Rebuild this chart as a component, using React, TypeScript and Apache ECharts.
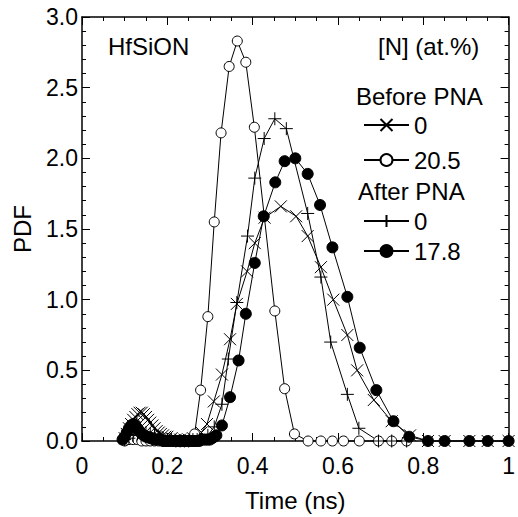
import React, { useEffect, useRef } from "react";
import * as echarts from "echarts";

// [time (ns), PDF]
const beforePNA_N0: [number, number][] = [
  [0.100, 0.02], [0.105, 0.05], [0.110, 0.09], [0.115, 0.12], [0.120, 0.15], [0.125, 0.17],
  [0.130, 0.19], [0.135, 0.20], [0.140, 0.20], [0.145, 0.19], [0.150, 0.17], [0.155, 0.15],
  [0.160, 0.13], [0.165, 0.11], [0.170, 0.09], [0.175, 0.07], [0.180, 0.06], [0.185, 0.05],
  [0.190, 0.04], [0.195, 0.03], [0.200, 0.03], [0.210, 0.02], [0.220, 0.01], [0.230, 0.01],
  [0.240, 0.01], [0.250, 0.01], [0.260, 0.02], [0.270, 0.03], [0.280, 0.06], [0.293, 0.12],
  [0.309, 0.28], [0.328, 0.47], [0.347, 0.72], [0.363, 0.97], [0.387, 1.20], [0.405, 1.40],
  [0.428, 1.58], [0.466, 1.66], [0.502, 1.59], [0.529, 1.45], [0.560, 1.23], [0.589, 1.00],
  [0.622, 0.75], [0.645, 0.50], [0.684, 0.29], [0.726, 0.14], [0.769, 0.04], [0.811, 0.0],
  [0.850, 0.0], [0.908, 0.0], [0.951, 0.0], [1.0, 0.0],
];

const beforePNA_N205: [number, number][] = [
  [0.100, 0.0], [0.110, 0.01], [0.120, 0.01], [0.130, 0.01], [0.140, 0.0], [0.150, 0.0],
  [0.160, 0.0], [0.170, 0.0], [0.180, 0.0], [0.190, 0.0], [0.200, 0.0], [0.210, 0.0],
  [0.220, 0.0], [0.230, 0.0], [0.240, 0.0], [0.250, 0.0], [0.264, 0.05], [0.278, 0.36],
  [0.295, 0.88], [0.310, 1.55], [0.326, 2.18], [0.345, 2.65], [0.364, 2.83], [0.384, 2.68],
  [0.404, 2.22], [0.452, 0.92], [0.475, 0.37], [0.498, 0.05], [0.530, 0.0], [0.560, 0.0],
  [0.587, 0.0], [0.613, 0.0], [0.650, 0.0], [0.695, 0.0], [0.726, 0.0], [0.761, 0.0],
];

const afterPNA_N0: [number, number][] = [
  [0.100, 0.01], [0.110, 0.02], [0.120, 0.04], [0.130, 0.05], [0.140, 0.06], [0.150, 0.06],
  [0.160, 0.05], [0.170, 0.04], [0.180, 0.03], [0.190, 0.02], [0.200, 0.01], [0.210, 0.01],
  [0.220, 0.0], [0.230, 0.0], [0.240, 0.0], [0.250, 0.0], [0.260, 0.01], [0.270, 0.01],
  [0.280, 0.02], [0.295, 0.04], [0.310, 0.10], [0.328, 0.26], [0.343, 0.58], [0.363, 0.98],
  [0.388, 1.45], [0.405, 1.86], [0.427, 2.14], [0.452, 2.28], [0.479, 2.21], [0.529, 1.61],
  [0.560, 1.16], [0.583, 0.70], [0.622, 0.33], [0.649, 0.09], [0.695, 0.0], [0.726, 0.0],
  [0.761, 0.0],
];

const afterPNA_N178: [number, number][] = [
  [0.095, 0.01], [0.100, 0.03], [0.105, 0.06], [0.110, 0.09], [0.115, 0.11], [0.120, 0.12],
  [0.125, 0.11], [0.130, 0.09], [0.135, 0.07], [0.140, 0.05], [0.145, 0.04], [0.150, 0.03],
  [0.155, 0.03], [0.160, 0.02], [0.165, 0.02], [0.170, 0.01], [0.175, 0.01], [0.180, 0.01],
  [0.185, 0.01], [0.190, 0.0], [0.195, 0.0], [0.200, 0.0], [0.205, 0.0], [0.210, 0.0],
  [0.215, 0.0], [0.220, 0.0], [0.225, 0.0], [0.230, 0.0], [0.235, 0.0], [0.240, 0.0],
  [0.245, 0.0], [0.250, 0.0], [0.255, 0.0], [0.260, 0.0], [0.265, 0.0], [0.270, 0.0],
  [0.275, 0.0], [0.280, 0.01], [0.285, 0.01], [0.290, 0.01], [0.295, 0.01], [0.300, 0.01],
  [0.305, 0.02], [0.310, 0.03], [0.315, 0.04], [0.328, 0.11], [0.347, 0.31], [0.367, 0.57],
  [0.384, 0.90], [0.405, 1.26], [0.426, 1.59], [0.453, 1.83], [0.475, 1.98], [0.500, 2.00],
  [0.529, 1.89], [0.558, 1.67], [0.587, 1.37], [0.622, 1.02], [0.651, 0.66], [0.690, 0.36],
  [0.730, 0.14], [0.767, 0.03], [0.811, 0.0], [0.850, 0.0], [0.908, 0.0], [0.951, 0.0],
  [1.0, 0.0],
];

const seriesKeys = ["b0", "b205", "a0", "a178"];
const seriesLabels: Record<string, string> = { b0: "0", b205: "20.5", a0: "0", a178: "17.8" };
const legendCenterY: Record<string, number> = { b0: 126, b205: 161, a0: 222, a178: 252 };

const FONT = "'Liberation Sans', Arial, Helvetica, sans-serif";

export default function App() {
  const ref = useRef<HTMLDivElement>(null);
  useEffect(() => {
    const chart = echarts.init(ref.current!, null, { renderer: "svg" });
    const crossPath = "path://M0,0L10,10M10,0L0,10";
    const plusPath = "path://M5,0L5,10M0,5L10,5";
    const strokeItem = { color: "rgba(0,0,0,0)", borderColor: "#000", borderWidth: 1 };
    const base = (name: string, data: [number, number][], symbol: string, size: number, itemStyle: any) => ({
      type: "line",
      name,
      data,
      symbol,
      symbolSize: size,
      showSymbol: true,
      showAllSymbol: true,
      clip: false,
      lineStyle: { color: "#000", width: 1 },
      itemStyle,
      emphasis: { disabled: true },
      z: 3,
    });
    const axisCommon = {
      type: "value",
      splitLine: { show: false },
      axisLine: { onZero: false, lineStyle: { color: "#000", width: 1.5 } },
      axisTick: { inside: true, length: 8, lineStyle: { color: "#000", width: 1 } },
      minorTick: { show: true, length: 4, lineStyle: { color: "#000", width: 1 } },
    };
    const textStyle = { fontFamily: FONT, fontSize: 24, color: "#000" };
    chart.setOption({
      animation: false,
      backgroundColor: "#fff",
      grid: { left: 82, top: 17, width: 431, height: 438 },
      xAxis: [
        {
          ...axisCommon,
          position: "bottom",
          min: 0, max: 1, interval: 0.2,
          minorTick: { ...axisCommon.minorTick, splitNumber: 4 },
          axisLabel: {
            fontFamily: FONT, fontSize: 23, color: "#000", margin: 13,
            formatter: (v: number) => String(Math.round(v * 10) / 10),
          },
          name: "Time (ns)",
          nameLocation: "middle",
          nameGap: 47,
          nameTextStyle: textStyle,
        },
        {
          ...axisCommon,
          position: "top",
          min: 0, max: 1, interval: 0.2,
          minorTick: { ...axisCommon.minorTick, splitNumber: 4 },
          axisLabel: { show: false },
        },
      ],
      yAxis: [
        {
          ...axisCommon,
          position: "left",
          min: 0, max: 3, interval: 0.5,
          minorTick: { ...axisCommon.minorTick, splitNumber: 5 },
          axisLabel: {
            fontFamily: FONT, fontSize: 23, color: "#000", margin: 4,
            formatter: (v: number) => v.toFixed(1),
          },
          name: "PDF",
          nameLocation: "middle",
          nameGap: 48,
          nameRotate: 90,
          nameTextStyle: textStyle,
        },
        {
          ...axisCommon,
          position: "right",
          min: 0, max: 3, interval: 0.5,
          minorTick: { ...axisCommon.minorTick, splitNumber: 5 },
          axisLabel: { show: false },
        },
      ],
      legend: seriesKeys.map((k) => ({
        data: [k],
        left: 363,
        top: legendCenterY[k] - 13,
        orient: "horizontal",
        itemWidth: 45,
        itemHeight: 15,
        itemGap: 0,
        padding: 0,
        selectedMode: false,
        formatter: (name: string) => seriesLabels[name],
        textStyle: { ...textStyle, padding: [0, 0, 0, 0] },
      })),
      graphic: [
        { type: "text", x: 108, y: 46, style: { text: "HfSiON", font: `24px ${FONT}`, fill: "#000", verticalAlign: "middle" } },
        { type: "text", x: 378, y: 46, style: { text: "[N] (at.%)", font: `24px ${FONT}`, fill: "#000", verticalAlign: "middle" } },
        { type: "text", x: 356, y: 96, style: { text: "Before PNA", font: `24px ${FONT}`, fill: "#000", verticalAlign: "middle" } },
        { type: "text", x: 358, y: 191, style: { text: "After PNA", font: `24px ${FONT}`, fill: "#000", verticalAlign: "middle" } },
      ],
      series: [
        base("b0", beforePNA_N0, crossPath, 12, strokeItem),
        base("b205", beforePNA_N205, "circle", 10, { color: "#fff", borderColor: "#000", borderWidth: 1 }),
        base("a0", afterPNA_N0, plusPath, 13, strokeItem),
        base("a178", afterPNA_N178, "circle", 11, { color: "#000", borderColor: "#000", borderWidth: 1 }),
      ],
    });
    return () => chart.dispose();
  }, []);
  return (
    <div
      ref={ref}
      style={{ position: "absolute", left: 0, top: 0, width: 518, height: 517, background: "#fff" }}
    />
  );
}
